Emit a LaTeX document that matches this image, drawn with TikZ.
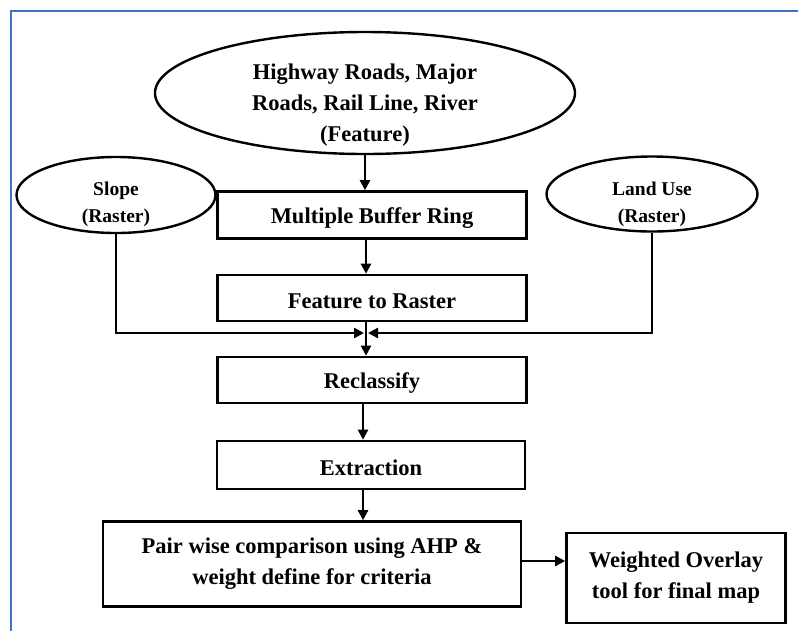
\documentclass[tikz,border=0pt]{standalone}
\usepackage{fontspec}
\setmainfont{Liberation Serif}
\usetikzlibrary{shapes.geometric,arrows.meta}
\definecolor{frameblue}{RGB}{68,114,196}
\newcommand{\lowtxt}[1]{\raisebox{-3pt}[\height][\depth]{#1}}
\begin{document}
\begin{tikzpicture}[x=1pt,y=-1pt,
 box/.style={draw,line width=2.6pt,inner sep=0pt,align=center,font=\bfseries\fontsize{22.5}{31}\selectfont},
 ell/.style={draw,ellipse,line width=2.4pt,inner sep=0pt},
 bigtxt/.style={align=center,font=\bfseries\fontsize{22.5}{31}\selectfont,inner sep=0pt},
 smalltxt/.style={align=center,font=\bfseries\fontsize{19.5}{27}\selectfont,inner sep=0pt},
 arr/.style={line width=2.3pt,-{Triangle[length=10pt,width=10pt]}}]
\useasboundingbox (0,0) rectangle (798,630);
\clip (0,0) rectangle (798,630);
\draw[frameblue,line width=2.2pt] (11,11) rectangle (830,660);

% ellipses
\node[ell,minimum width=420pt,minimum height=122pt] (hw) at (365,93) {};
\node[bigtxt] (hwt) at (365,105) {Highway Roads, Major\\Roads, Rail Line, River\\(Feature)};
\node[ell,minimum width=199pt,minimum height=76pt] (sl) at (116,195) {};
\node[smalltxt] (slt) at (116,204) {Slope\\(Raster)};
\node[ell,minimum width=211pt,minimum height=75pt] (lu) at (652,194) {};
\node[smalltxt] (lut) at (652,204) {Land Use\\(Raster)};

% boxes
\node[box,minimum width=309pt,minimum height=47pt] (mbr) at (372,215) {\lowtxt{Multiple Buffer Ring}};
\node[box,minimum width=309pt,minimum height=46pt] (ftr) at (372,298) {\lowtxt{Feature to Raster}};
\node[box,minimum width=309pt,minimum height=46pt] (rec) at (372,380) {\lowtxt{Reclassify}};
\node[box,minimum width=308pt,minimum height=48pt] (ext) at (371,465) {\lowtxt{Extraction}};
\node[box,minimum width=418pt,minimum height=85pt] (pw) at (312,564) {Pair wise comparison using AHP \&\\weight define for criteria};
\node[box,minimum width=219pt,minimum height=90pt] (wo) at (676,578) {Weighted Overlay\\tool for final map};

% connectors
\coordinate (ax) at (366,0);
\coordinate (bx) at (363,0);
\coordinate (j) at (366,333);
\draw[arr] (hw.south) -- (hw.south |- mbr.north);
\draw[arr] (mbr.south -| ax) -- (ftr.north -| ax);
\draw[arr] (ftr.south -| ax) -- (rec.north -| ax);
\draw[arr] (sl.south) |- ([xshift=-2pt]j);
\draw[arr] (lu.south) |- ([xshift=2pt]j);
\draw[arr] (rec.south -| bx) -- (ext.north -| bx);
\draw[arr] (ext.south -| bx) -- (pw.north -| bx);
\draw[arr] (pw.east |- 0,561) -- (wo.west |- 0,561);
\end{tikzpicture}
\end{document}
